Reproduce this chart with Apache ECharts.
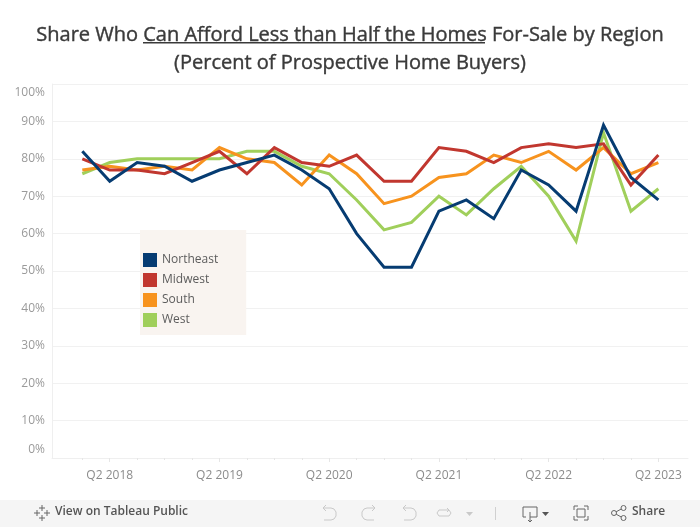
<!DOCTYPE html>
<html>
<head>
<meta charset="utf-8">
<style>html,body{margin:0;padding:0;background:#fff}#chart{width:700px;height:527px}</style>
<script src="https://cdn.jsdelivr.net/npm/echarts@6/dist/echarts.min.js"></script>
</head>
<body>
<div id="chart"></div>
<script>
var quarters = ['Q1 2018','Q2 2018','Q3 2018','Q4 2018','Q1 2019','Q2 2019','Q3 2019','Q4 2019','Q1 2020','Q2 2020','Q3 2020','Q4 2020','Q1 2021','Q2 2021','Q3 2021','Q4 2021','Q1 2022','Q2 2022','Q3 2022','Q4 2022','Q1 2023','Q2 2023'];
var northeast = [82,74,79,78,74,77,79,81,77,72,60,51,51,66,69,64,77,73,66,89,75,69];
var midwest = [80,77,77,76,79,82,76,83,79,78,81,74,74,83,82,79,83,84,83,84,73,81];
var south = [77,78,77,78,77,83,80,79,73,81,76,68,70,75,76,81,79,82,77,83,76,79];
var west = [76,79,80,80,80,80,82,82,78,76,69,61,63,70,65,72,78,70,58,87,66,72];
var regions = ['Northeast','Midwest','South','West'];
var colors = ['#063c72','#c1372f','#f7931e','#a0cf5b'];
var tickLabelIdx = [1,5,9,13,17,21];

var font = '"Open Sans", sans-serif';
var ink = '#5c5c5c';
var faint = '#c9c9c9';
var xMin = -1.105, xMax = 22.08;

function pairs(arr) {
	return arr.map(function(v, i) { return [i, v]; });
}
function lineSeries(i, arr) {
	return {
		name: regions[i],
		type: 'line',
		data: pairs(arr),
		symbol: 'none',
		z: 10 - i,
		itemStyle: { color: colors[i] },
		lineStyle: { color: colors[i], width: 3, join: 'miter' }
	};
}

// toolbar icons, drawn as small polylines
function icon(x, y, color, lines, rings) {
	var kids = lines.map(function(pts) {
		return { type: 'polyline', shape: { points: pts }, style: { fill: null, stroke: color, lineWidth: 1 } };
	});
	(rings || []).forEach(function(r) {
		kids.push({ type: 'circle', shape: { cx: r[0], cy: r[1], r: 2.5 }, style: { fill: '#f5f5f5', stroke: color, lineWidth: 1 } });
	});
	return { type: 'group', x: x, y: y, children: kids };
}
var undoLines = [[[3,3],[11,3],[14,4],[16,7],[16,11],[14,14],[11,15],[4,15]], [[6,0],[3,3],[6,6]]];
var redoLines = [[[15,3],[7,3],[4,4],[2,7],[2,11],[4,14],[7,15],[14,15]], [[12,0],[15,3],[12,6]]];

var myChart = echarts.init(document.getElementById('chart'));
myChart.setOption({
	animation: false,
	backgroundColor: '#fff',
	textStyle: { fontFamily: font },
	title: {
		left: 'center',
		top: 16,
		text: '{t|Share Who }{t|Can Afford Less than Half the Homes}{t| For-Sale by Region}\n{t|(Percent of Prospective Home Buyers)}',
		textStyle: {
			rich: { t: { fontFamily: font, fontSize: 20, fontWeight: 500, color: '#3a3a3a', lineHeight: 28, textBorderColor: '#3a3a3a', textBorderWidth: 0.4 } }
		}
	},
	legend: {
		left: 140,
		top: 230,
		orient: 'vertical',
		data: regions,
		icon: 'rect',
		itemWidth: 14,
		itemHeight: 14,
		itemGap: 6,
		padding: [23, 28, 8, 3],
		backgroundColor: '#f9f4f0',
		textStyle: { color: ink, fontSize: 12, fontFamily: font, padding: [2, 0, 0, 0] }
	},
	grid: { left: 52, right: 12, top: 84, bottom: 69 },
	xAxis: [{
		type: 'value',
		min: xMin,
		max: xMax,
		position: 'bottom',
		axisLine: { show: true, lineStyle: { color: '#efefef' } },
		splitLine: { show: false },
		axisTick: { show: true, length: 2, lineStyle: { color: '#e6e6e6' }, customValues: quarters.map(function(q, i) { return i; }) },
		axisLabel: {
			customValues: tickLabelIdx,
			color: '#8c8c8c',
			fontSize: 12,
			margin: 12,
			formatter: function(v) { return quarters[v]; }
		}
	}, {
		// longer ticks under the labelled quarters
		type: 'value',
		min: xMin,
		max: xMax,
		position: 'bottom',
		axisLine: { show: false },
		splitLine: { show: false },
		axisTick: { show: true, length: 4, lineStyle: { color: '#e6e6e6' }, customValues: tickLabelIdx },
		axisLabel: { show: false }
	}],
	yAxis: {
		type: 'value',
		min: 0,
		max: 100,
		interval: 10,
		axisLine: { show: true, onZero: false, lineStyle: { color: '#efefef' } },
		axisTick: { show: false },
		splitLine: { lineStyle: { color: '#f1f1f1' } },
		axisLabel: {
			color: '#9a9a9a',
			fontSize: 12,
			margin: 7,
			lineHeight: 17,
			verticalAlignMinLabel: 'bottom',
			verticalAlignMaxLabel: 'top',
			formatter: '{value}%'
		}
	},
	series: [
		lineSeries(0, northeast),
		lineSeries(1, midwest),
		lineSeries(2, south),
		lineSeries(3, west)
	],
	graphic: [
		{ type: 'rect', shape: { x: 143, y: 42, width: 342, height: 1.4 }, style: { fill: '#3a3a3a' } },
		{ type: 'rect', shape: { x: 0, y: 500, width: 700, height: 27 }, style: { fill: '#f5f5f5' } },
		{ type: 'text', x: 55, y: 505.5, style: { text: 'View on Tableau Public', fill: '#555', fontFamily: font, fontSize: 12, fontWeight: 600 } },
		{ type: 'text', x: 632, y: 505.5, style: { text: 'Share', fill: '#555', fontFamily: font, fontSize: 12, fontWeight: 600 } },
		icon(34, 505, '#666', [[[8,0],[8,6]], [[5,3],[11,3]], [[8,10],[8,16]], [[5,13],[11,13]], [[3,5],[3,11]], [[0,8],[6,8]], [[13,5],[13,11]], [[10,8],[16,8]]]),
		icon(320, 505, faint, undoLines),
		icon(360, 505, faint, redoLines),
		icon(400, 505, faint, undoLines),
		icon(436, 508, faint, [[[3,2],[13,2],[15,5],[13,8],[3,8],[1,5],[3,2]], [[11,0],[13,2],[11,4]]]),
		{ type: 'polygon', shape: { points: [[466,512],[473,512],[469.5,516]] }, style: { fill: faint } },
		{ type: 'rect', shape: { x: 495, y: 507, width: 1, height: 13 }, style: { fill: '#d0d0d0' } },
		icon(522, 505, '#666', [[[4,12],[1,12],[1,2],[15,2],[15,12],[8,12]], [[8,7],[8,17]], [[6,15],[8,17],[10,15]]]),
		{ type: 'polygon', shape: { points: [[542,512],[549,512],[545.5,516]] }, style: { fill: '#555' } },
		icon(573, 505, '#666', [[[1,5],[1,1],[5,1]], [[11,1],[15,1],[15,5]], [[15,11],[15,15],[11,15]], [[5,15],[1,15],[1,11]], [[4,4],[12,4],[12,12],[4,12],[4,4]]]),
		icon(611, 504, '#666', [[[3,9],[12,4]], [[3,9],[12,14]]], [[12.5,4],[12.5,14],[3,9]])
	]
});
</script>
</body>
</html>
